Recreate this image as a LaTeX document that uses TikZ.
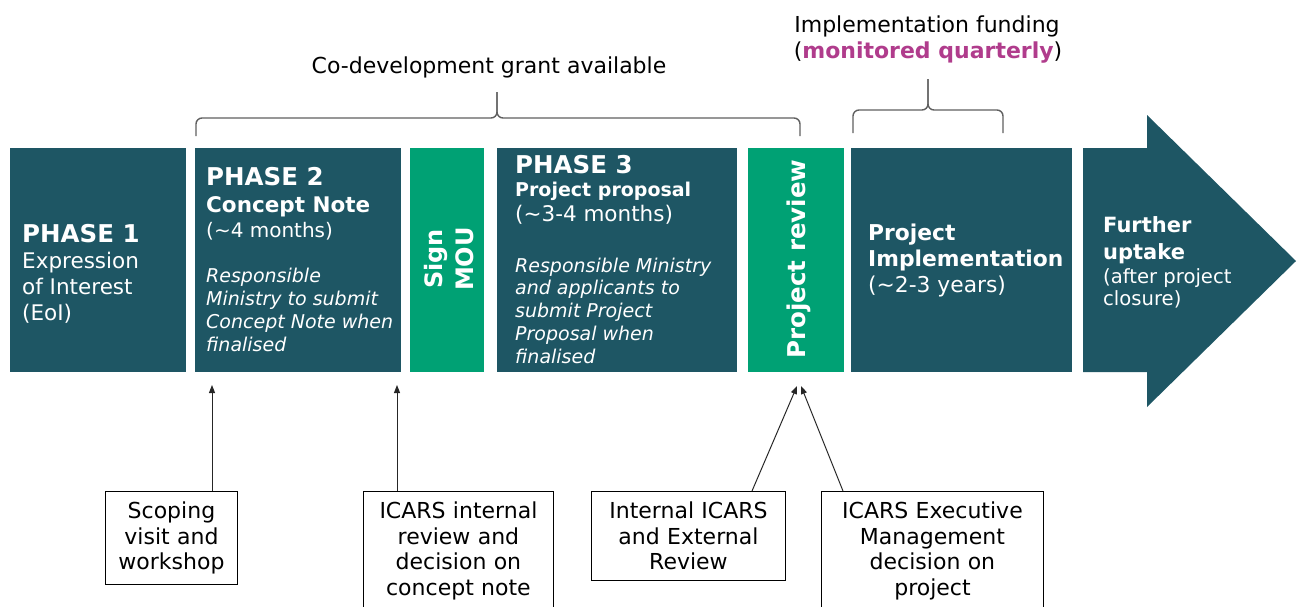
\documentclass[tikz,border=0pt]{standalone}
\usepackage{fontspec}
\setmainfont{DejaVu Sans}
\usetikzlibrary{arrows.meta}
\definecolor{dkteal}{HTML}{1E5664}
\definecolor{grn}{HTML}{00A174}
\definecolor{mag}{HTML}{B03C8C}
\definecolor{brc}{HTML}{606060}
\newcommand\lyn[4]{{\fontsize{#1}{#2}\selectfont#3 #4\par}}
\begin{document}
\begin{tikzpicture}[x=1pt,y=-1pt,
  phase/.style={fill=dkteal, inner sep=0pt, anchor=north west, minimum height=224pt},
  gphase/.style={phase, fill=grn},
  txt/.style={inner sep=0pt, anchor=base west, text=white},
  lbox/.style={draw=black, line width=0.9pt, fill=white, align=center, anchor=north west,
    inner xsep=0pt, inner ysep=10.5pt, font=\fontsize{22}{25.5}\selectfont},
  conn/.style={draw=black!85, line width=1pt, -{Triangle[length=8pt,width=6pt]}},
  brace/.style={draw=brc, line width=1.4pt, rounded corners=6pt},
  lab/.style={inner sep=0pt, anchor=base, font=\fontsize{22}{25}\selectfont}
]
\useasboundingbox (0,0) rectangle (1299,606);
\clip (0,0) rectangle (1299,606);

% phase boxes
\node[phase, minimum width=176pt] (p1) at (10,148) {};
\node[phase, minimum width=206pt] (p2) at (195,148) {};
\node[gphase, minimum width=74pt] (mou) at (410,148) {};
\node[phase, minimum width=240pt] (p3) at (497,148) {};
\node[gphase, minimum width=96pt] (rev) at (748,148) {};
\node[phase, minimum width=221pt] (impl) at (851,148) {};
\fill[dkteal] (1083,148) -- (1147,148) -- (1147,115) -- (1296,261) -- (1147,407) -- (1147,372) -- (1083,372) -- cycle;

% texts in boxes
\node[txt] (p1t) at (22,242) {\parbox[t]{170pt}{\raggedright
  \lyn{24.5}{24}{\bfseries}{PHASE 1}%
  \lyn{21.5}{26}{}{Expression}%
  \lyn{21.5}{26}{}{of Interest}%
  \lyn{21.5}{26}{}{(EoI)}}};
\node[txt] (p2t) at (206,185) {\parbox[t]{200pt}{\raggedright
  \lyn{24.5}{24}{\bfseries}{PHASE 2}%
  \lyn{21.5}{27}{\bfseries}{Concept Note}%
  \lyn{20}{25}{}{(\textasciitilde4 months)}%
  \lyn{19}{45}{\itshape}{Responsible}%
  \lyn{19}{23}{\itshape}{Ministry to submit}%
  \lyn{19}{23}{\itshape}{Concept Note when}%
  \lyn{19}{23}{\itshape}{finalised}}};
\node[txt] (p3t) at (515,173) {\parbox[t]{230pt}{\raggedright
  \lyn{24.5}{24}{\bfseries}{PHASE 3}%
  \lyn{19}{23}{\bfseries}{Project proposal}%
  \lyn{21.5}{25}{}{(\textasciitilde3-4 months)}%
  \lyn{19}{51}{\itshape}{Responsible Ministry}%
  \lyn{19}{22}{\itshape}{and applicants to}%
  \lyn{19}{23}{\itshape}{submit Project}%
  \lyn{19}{23}{\itshape}{Proposal when}%
  \lyn{19}{23}{\itshape}{finalised}}};
\node[txt] (implt) at (868,240) {\parbox[t]{210pt}{\raggedright
  \lyn{21.8}{21}{\bfseries}{Project}%
  \lyn{21.8}{26}{\bfseries}{Implementation}%
  \lyn{21.8}{26}{}{(\textasciitilde2-3 years)}}};
\node[txt] (furt) at (1103,232) {\parbox[t]{190pt}{\raggedright
  \lyn{21}{21}{\bfseries}{Further}%
  \lyn{21}{27}{\bfseries}{uptake}%
  \lyn{19.6}{24}{}{(after project}%
  \lyn{19.6}{22}{}{closure)}}};
\node[text=white, rotate=90, align=center, inner sep=0pt,
  font=\fontsize{24}{31}\selectfont\bfseries] (mout) at (449,259) {Sign\\MOU};
\node[text=white, rotate=90, inner sep=0pt,
  font=\fontsize{24.5}{30}\selectfont\bfseries] (revt) at (799,259) {Project review};

% top labels and braces
\node[lab] (codev) at (489,73) {Co-development grant available};
\node[lab] (impf) at (927,32) {Implementation funding};
\node[lab] (monq) at (928,58) {(\textcolor{mag}{\bfseries monitored quarterly})};
\draw[brace] (196,136) -- (196,118) -- (497,118) -- (497,92);
\draw[brace] (800,136) -- (800,118) -- (497,118) -- (497,92);
\draw[brace] (853,133) -- (853,110) -- (928,110) -- (928,79);
\draw[brace] (1003,133) -- (1003,110) -- (928,110) -- (928,79);

% lower boxes
\node[lbox, text width=132pt] (scop) at (105,491) {Scoping\\visit and\\workshop};
\node[lbox, text width=190pt, text depth=100pt] (icin) at (363,491) {ICARS internal\\review and\\decision on\\concept note};
\node[lbox, text width=194pt] (ie) at (591,491) {Internal ICARS\\and External\\Review};
\node[lbox, text width=222pt, text depth=100pt] (exe) at (821,491) {ICARS Executive\\Management\\decision on\\project};

% connectors
\coordinate (t1) at (212,385);
\coordinate (t2) at (397,385);
\coordinate (t3) at (797,386);
\coordinate (t4) at (801,386);
\coordinate (s3) at (752,500);
\coordinate (s4) at (843,500);
\draw[conn] (scop.north -| t1) -- (t1);
\draw[conn] (icin.north -| t2) -- (t2);
\draw[conn] (ie.north -| s3) -- (t3);
\draw[conn] (exe.north -| s4) -- (t4);
\end{tikzpicture}
\end{document}
